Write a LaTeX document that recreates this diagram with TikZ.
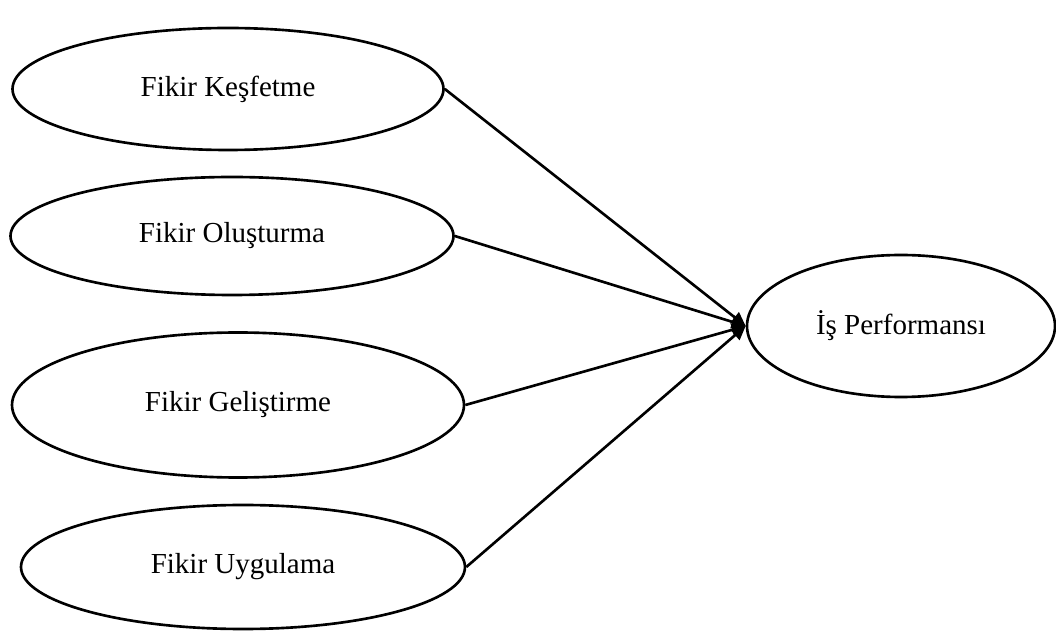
\documentclass[tikz,border=0pt]{standalone}
\usepackage{fontspec}
\setmainfont{Liberation Serif}
\usepackage{tikz}
\usetikzlibrary{arrows.meta,shapes.geometric,positioning}

\begin{document}
\begin{tikzpicture}[
  factor/.style={ellipse,draw=black,line width=1.5pt,inner sep=0pt,align=center,font=\fontsize{16.5}{20}\selectfont},
  arrow/.style={-{Triangle[length=0.28cm,width=0.26cm]},line width=1.5pt,black}
]
  \useasboundingbox (0,0) rectangle (21.12,-12.68);
  \node[factor,minimum width=8.62cm,minimum height=2.44cm] (kesif) at (4.56,-1.78) {Fikir Keşfetme};
  \node[factor,minimum width=8.86cm,minimum height=2.36cm] (olus) at (4.64,-4.72) {Fikir Oluşturma};
  \node[factor,minimum width=9.04cm,minimum height=2.9cm] (gelis) at (4.76,-8.10) {Fikir Geliştirme};
  \node[factor,minimum width=8.88cm,minimum height=2.48cm] (uygula) at (4.86,-11.34) {Fikir Uygulama};
  \node[factor,minimum width=6.16cm,minimum height=2.84cm] (perf) at (18.02,-6.52) {İş Performansı};
  \draw[arrow] (kesif.east) -- (perf.west);
  \draw[arrow] (olus.east) -- (perf.west);
  \draw[arrow] (gelis.east) -- (perf.west);
  \draw[arrow] (uygula.east) -- (perf.west);
\end{tikzpicture}
\end{document}
